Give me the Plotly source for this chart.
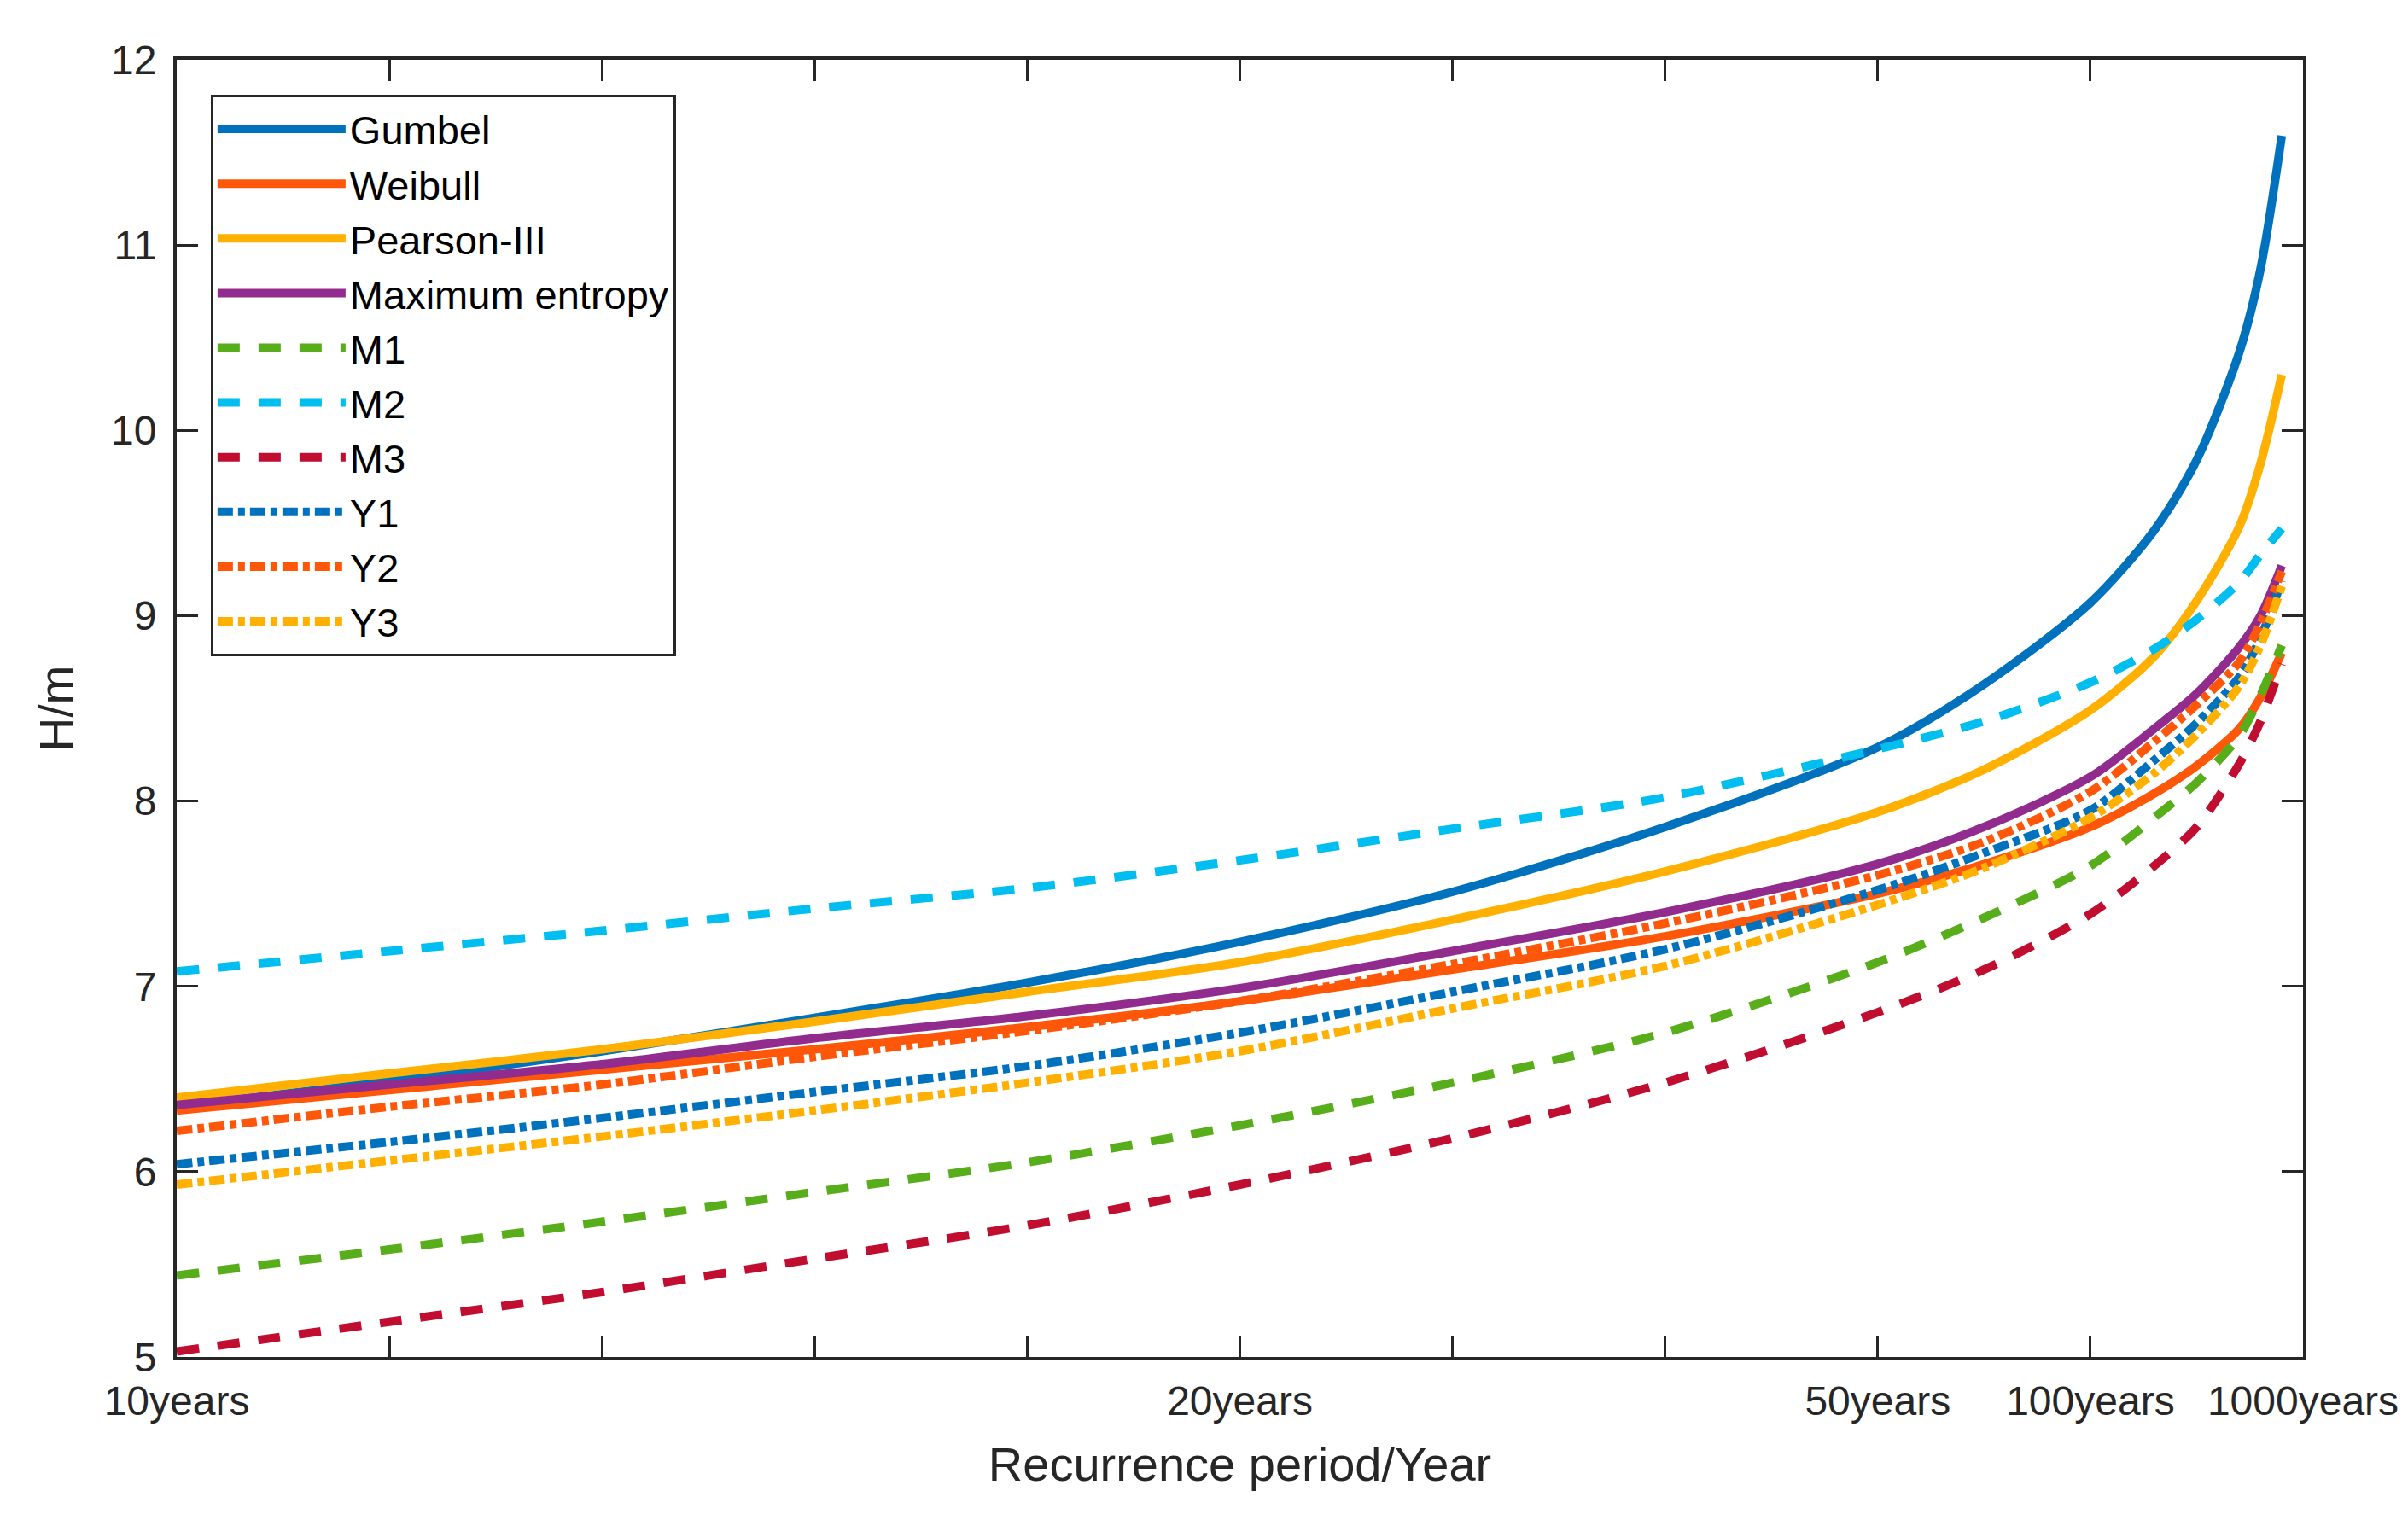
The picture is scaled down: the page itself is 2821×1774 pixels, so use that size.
import plotly.graph_objects as go

# x positions on the recurrence-period axis (index scale, 0 = 10 years ... 10 = 1000 years)
x_pos = [0, 1, 2, 3, 4, 5, 6, 7, 8, 8.5, 9, 9.3, 9.5, 9.7, 9.8, 9.9]

tick_vals = [0, 1, 2, 3, 4, 5, 6, 7, 8, 9, 10]
tick_text = ["10years", "", "", "", "", "20years", "", "", "50years", "100years", "1000years"]

gumbel  = [6.35, 6.49, 6.65, 6.83, 7.02, 7.24, 7.51, 7.86, 8.29, 8.63, 9.07, 9.46, 9.84, 10.42, 10.87, 11.59]
weibull = [6.33, 6.44, 6.55, 6.66, 6.78, 6.92, 7.09, 7.27, 7.50, 7.66, 7.86, 8.04, 8.19, 8.39, 8.56, 8.80]
pearson = [6.40, 6.53, 6.66, 6.81, 6.97, 7.13, 7.36, 7.62, 7.94, 8.17, 8.49, 8.78, 9.08, 9.48, 9.82, 10.30]
maxent  = [6.36, 6.47, 6.58, 6.72, 6.84, 6.99, 7.19, 7.40, 7.66, 7.86, 8.13, 8.39, 8.58, 8.83, 9.00, 9.27]
m1      = [5.44, 5.58, 5.73, 5.89, 6.05, 6.25, 6.48, 6.75, 7.13, 7.37, 7.65, 7.91, 8.10, 8.35, 8.57, 8.84]
m2      = [7.08, 7.19, 7.30, 7.42, 7.53, 7.68, 7.85, 8.02, 8.28, 8.43, 8.64, 8.82, 8.98, 9.18, 9.33, 9.47]
m3      = [5.03, 5.19, 5.35, 5.53, 5.71, 5.93, 6.18, 6.48, 6.86, 7.09, 7.39, 7.65, 7.86, 8.20, 8.43, 8.74]
y1      = [6.04, 6.16, 6.29, 6.43, 6.57, 6.75, 6.97, 7.20, 7.52, 7.72, 7.95, 8.22, 8.42, 8.67, 8.88, 9.19]
y2      = [6.22, 6.35, 6.47, 6.62, 6.76, 6.92, 7.12, 7.34, 7.60, 7.78, 8.05, 8.32, 8.52, 8.75, 8.96, 9.24]
y3      = [5.93, 6.06, 6.19, 6.33, 6.48, 6.65, 6.88, 7.11, 7.44, 7.64, 7.91, 8.15, 8.36, 8.62, 8.84, 9.16]

series = [
    ("Gumbel", gumbel, "#0072BD", "solid"),
    ("Weibull", weibull, "#FF5709", "solid"),
    ("Pearson-III", pearson, "#FFB000", "solid"),
    ("Maximum entropy", maxent, "#922B8E", "solid"),
    ("M1", m1, "#57AE1A", "26px,22px"),
    ("M2", m2, "#00BEF0", "26px,22px"),
    ("M3", m3, "#C00D30", "26px,22px"),
    ("Y1", y1, "#0072BD", "18px,6px,8px,6px"),
    ("Y2", y2, "#FF5709", "18px,6px,8px,6px"),
    ("Y3", y3, "#FFB000", "18px,6px,8px,6px"),
]

fig = go.Figure()
for i, (name, vals, color, dash) in enumerate(series):
    fig.add_trace(go.Scatter(
        x=x_pos, y=vals, mode="lines", name=name, legendgroup="g%d" % i,
        line=dict(color=color, width=10, dash=dash, shape="spline", smoothing=0.8),
    ))

axis_col = "#262626"
fig.update_layout(
    width=2821, height=1774,
    margin=dict(l=199, r=131, t=62, b=192),
    paper_bgcolor="white", plot_bgcolor="white",
    font=dict(family="Liberation Sans, Arial, sans-serif", color=axis_col, size=48),
    xaxis=dict(
        range=[0, 10], tickmode="array", tickvals=tick_vals, ticktext=tick_text,
        showgrid=False, zeroline=False, showline=True, linecolor=axis_col, linewidth=4,
        mirror="ticks", ticks="inside", ticklen=25, tickwidth=3, tickcolor=axis_col,
        tickfont=dict(size=48), ticklabelstandoff=6,
        title=dict(text="Recurrence period/Year", font=dict(size=56), standoff=30),
    ),
    yaxis=dict(
        range=[5, 12], tickmode="array", tickvals=[5, 6, 7, 8, 9, 10, 11, 12],
        showgrid=False, zeroline=False, showline=True, linecolor=axis_col, linewidth=4,
        mirror="ticks", ticks="inside", ticklen=25, tickwidth=3, tickcolor=axis_col,
        tickfont=dict(size=48), ticklabelstandoff=10,
        title=dict(text="H/m", font=dict(size=55), standoff=28),
    ),
    legend=dict(
        x=0.016, y=0.973, xanchor="left", yanchor="top",
        bgcolor="white", bordercolor="#262626", borderwidth=3,
        font=dict(size=47, color="black"), itemwidth=150, tracegroupgap=10,
        traceorder="normal",
    ),
    showlegend=True,
)

fig.write_html("out.html")
